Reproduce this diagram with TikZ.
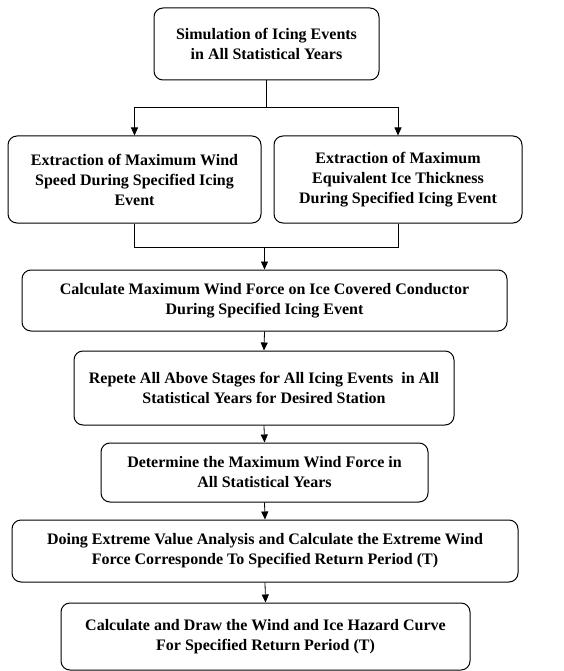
\documentclass[tikz,border=0pt]{standalone}
\usepackage{fontspec}
\setmainfont{Liberation Serif}
\usetikzlibrary{arrows.meta}
\begin{document}
\begin{tikzpicture}[x=1pt,y=-1pt,
  box/.style={draw, line width=1pt, rounded corners=9pt, align=center, inner sep=0pt,
    font=\fontsize{16}{20}\selectfont\bfseries},
  conn/.style={line width=0.8pt},
  arr/.style={conn, -{Triangle[length=8pt,width=7pt]}}]
\useasboundingbox (0,0) rectangle (563,671);
\node[box, minimum width=225pt, minimum height=72pt] (b1) at (266.5,44) {Simulation of Icing Events\\in All Statistical Years};
\node[box, minimum width=253pt, minimum height=87pt] (b2) at (134.5,179.5) {Extraction of Maximum Wind\\Speed During Specified Icing\\Event};
\node[box, minimum width=248pt, minimum height=87pt] (b3) at (398,179.5) {Extraction of Maximum\\Equivalent Ice Thickness\\During Specified Icing Event};
\node[box, minimum width=485pt, minimum height=61pt] (b4) at (264.5,300.5) {Calculate Maximum Wind Force on Ice Covered Conductor\\During Specified Icing Event};
\node[box, minimum width=380pt, minimum height=74pt] (b5) at (264,388) {Repete All Above Stages for All Icing Events\ \ in All\\Statistical Years for Desired Station};
\node[box, minimum width=327pt, minimum height=59pt] (b6) at (264.5,472.5) {Determine the Maximum Wind Force in\\All Statistical Years};
\node[box, minimum width=506pt, minimum height=62pt] (b7) at (265,551) {Doing Extreme Value Analysis and Calculate the Extreme Wind\\Force Corresponde To Specified Return Period (T)};
\node[box, minimum width=409pt, minimum height=67pt] (b8) at (265.5,636.5) {Calculate and Draw the Wind and Ice Hazard Curve\\For Specified Return Period (T)};
\coordinate (j1) at (266.5,107);
\coordinate (j2) at (264.5,247);
\draw[conn] (b1.south) -- (j1);
\draw[arr] (j1) -| (b2.north);
\draw[arr] (j1) -| (b3.north);
\draw[conn] (b2.south) |- (j2);
\draw[conn] (b3.south) |- (j2);
\draw[arr] (j2) -- (b4.north);
\draw[arr] (b4.south) -- (b5.north);
\draw[arr] (b5.south) -- (b6.north);
\draw[arr] (b6.south) -- (b7.north);
\draw[arr] (b7.south) -- (b8.north);
\end{tikzpicture}
\end{document}
